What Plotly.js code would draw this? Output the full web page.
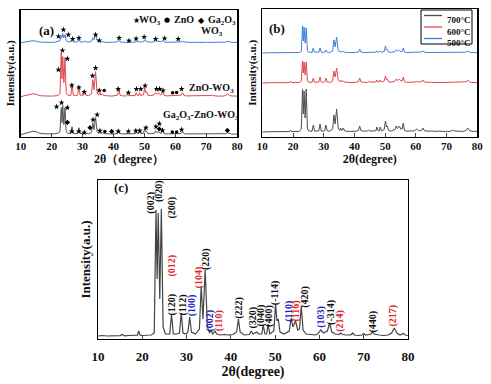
<!DOCTYPE html>
<html><head><meta charset="utf-8">
<script src="https://cdn.plot.ly/plotly-3.0.1.min.js"></script>
<style>html,body{margin:0;padding:0;background:#fff}#chart{width:491px;height:384px}</style>
</head><body><div id="chart"></div>
<script>
// ---------- shared 2θ grid (degrees) ----------
const twoTheta = [
 10, 11, 12, 13, 14, 15, 15.5, 16, 17, 18,
 18.9, 19.2, 19.5, 20, 21, 22, 22.7, 23.1, 23.35, 23.6,
 23.95, 24.3, 24.7, 25.2, 26.2, 26.6, 27.0, 27.7, 28.4, 28.8,
 29.2, 29.9, 30.3, 30.7, 31.1, 32.0, 32.9, 33.3, 33.7, 34.2,
 34.7, 35.2, 35.5, 35.9, 36.4, 36.8, 37.5, 38.5, 39.5, 40.5,
 41.3, 41.7, 42.1, 43.0, 44.2, 44.6, 45.0, 45.4, 45.8, 46.3,
 47.0, 47.3, 47.7, 48.1, 48.4, 48.8, 49.7, 50.1, 50.4, 50.7,
 51.1, 52.0, 53.2, 53.6, 54.0, 54.3, 54.6, 55.1, 55.5, 55.9,
 56.3, 57.0, 58.0, 59.0, 59.6, 60.3, 60.9, 61.8, 62.3, 62.8,
 63.6, 64.4, 64.8, 65.2, 66.0, 67.1, 67.5, 67.9, 68.8, 69.6,
 70.0, 70.4, 71.2, 71.6, 72.0, 72.4, 73.5, 74.5, 75.5, 76.3,
 76.9, 77.5, 78.2, 78.6, 79.0, 79.4, 80.0];

// ---------- panel (a): relative intensities (a.u.) ----------
const aWO3 = [
 0,0.5,1.2,2,2,1.5,1,0.8,0.5,0.3,
 0.3,0.5,0.3,0.3,0.5,1,2,7,5,9,
 5,8,2,1,0.8,2.5,0.8,0.5,0.8,3,
 0.8,0.5,0.8,1.5,0.8,0.5,1.5,5,3,8,
 2,1,1.5,0.8,1,0.5,0.4,0.3,0.3,0.4,
 0.8,2.5,0.8,0.4,0.4,1,0.5,0.5,0.6,0.5,
 0.6,1.2,0.6,0.6,1,0.6,1,3,1.5,1.5,
 0.8,0.5,1,2,1,1.2,1.3,1,1,2.2,
 0.8,0.4,0.4,0.4,0.5,1,0.6,0.8,1.2,0.6,
 0.4,0.4,0.5,0.4,0.3,0.3,0.4,0.3,0.3,0.3,
 0.4,0.3,0.3,0.4,0.6,0.4,0.3,0.3,0.3,0.6,
 1.5,0.6,0.3,0.3,0.4,0.3,0.2];
const aZnOWO3 = [
 0,0.8,1.5,2.5,3,2.5,1.8,1.2,0.8,0.6,
 0.6,1,0.6,0.6,0.8,1.2,3,44,18,40,
 14,39,4,1.5,1.2,13,1.5,1,1.5,10,
 1.5,1.2,1.5,5,1.5,1,3,17,7,25,
 4,1.5,4,1.5,3,1.2,0.8,0.8,0.6,0.8,
 1.5,8,1.5,0.8,0.8,2,1,1,1.2,1,
 1.2,4,1.2,1.2,4,1.2,2,9,4,5,
 1.5,1,2,4,2.5,3,4,2,2,6,
 1.5,0.8,0.8,0.8,1,1.5,1,1.5,4,1.2,
 0.8,0.8,1,0.8,0.6,0.6,0.8,0.6,0.6,0.6,
 0.8,0.6,0.8,1.2,1.5,1,0.6,0.6,0.6,1.5,
 3,1.2,0.6,0.6,0.8,0.6,0.5];
const aGaZnOWO3 = [
 0,1,2,3,3.5,3,2,1.5,1,0.8,
 0.8,1.2,0.8,0.8,1,1.5,3,27,12,29,
 10,27,3,1.5,1.2,8,1.5,1,1.2,7,
 1.2,1,1.2,4,1.2,1,2.5,12,5,17,
 3,1.2,3,1.2,2,1,0.8,0.8,0.8,0.8,
 1.2,5,1.2,0.8,0.8,1.5,1,1,1.2,1,
 1,3,1,1,3,1,1.5,7,3,3.5,
 1.2,1,1.5,4,2,2.5,3,1.5,1.5,6,
 1.2,0.8,0.8,0.8,1,1.5,1,1.2,3,1,
 0.8,0.8,1,0.8,0.6,0.6,0.8,0.6,0.6,0.6,
 0.8,0.6,0.6,0.8,1.2,0.8,0.6,0.6,0.6,1,
 2,1,0.6,0.6,0.8,0.6,0.5];
const aNames = ["WO<sub>3</sub>", "ZnO-WO<sub>3</sub>", "Ga<sub>2</sub>O<sub>3</sub>-ZnO-WO<sub>3</sub>"];
const aOffsets = [94, 40, 2];
const phaseNames = ["WO<sub>3</sub>", "ZnO", "Ga<sub>2</sub>O<sub>3</sub>"];
const phaseSymbols = ["★", "●", "◆"];

// phase markers in panel (a)
const wo3StarX = [22.2,23.8,25.4,26.8,28.8,34.2,35.4,41.8,45.0,47.3,49.9,53.6,56.5,60.9,
 22.2,23.5,25.1,26.5,28.8,30.5,33.2,34.2,35.4,41.5,44.8,47.4,48.8,50.2,53.9,54.9,56.0,62.0,
 21.6,23.2,25.1,26.5,28.8,30.5,33.4,34.7,35.6,41.5,44.8,47.2,48.5,50.5,53.7,54.8,55.8,62.0];
const wo3StarY = [100.3,107,102,97.7,98.7,102,96.3,98.7,96,98,99.7,97.7,98.3,97.7,
 67,86.3,78,51.3,49.3,44.7,61,68.7,46.3,47.7,44,47.7,47.7,51,47.7,47.7,46.3,47.7,
 30,34,29,5.3,5.3,4,17,22,6,5.3,5.3,6,6,9,10,13,6.3,7];
const znoX = [37.0,59.1,60.4,37.2,59.0,60.4];
const znoY = [46.3,44,44.3,5.3,4.7,4.7];
const ga2o3X = [25.1,32.4,39.4,54.8,76.8];
const ga2o3Y = [14.3,9,5.3,7.7,6.3];

// ---------- panel (b): calcination temperatures ----------
const b500 = [
 0,0.3,0.3,0.3,0.3,0.3,0.4,0.3,0.3,0.3,
 0.3,0.8,0.3,0.3,0.3,0.4,1.5,27,12,26,
 10,25,2,0.8,0.6,5,0.8,0.6,0.8,5,
 0.8,0.6,0.8,3,0.8,0.6,2,13,6,16,
 2.5,1,2,0.8,1.5,0.8,0.5,0.4,0.4,0.5,
 1,4,1,0.5,0.5,1,0.6,0.6,0.8,0.6,
 0.8,2,0.8,0.8,2,0.8,1.5,7,3,3.5,
 1,0.6,1.5,3,2,2.5,3,1.5,1.5,5,
 1,0.5,0.5,0.5,0.8,1.2,0.8,1,2,0.8,
 0.5,0.5,0.6,0.5,0.4,0.4,0.6,0.4,0.4,0.4,
 0.5,0.4,0.4,0.6,0.8,0.6,0.4,0.4,0.4,0.8,
 2,0.8,0.4,0.4,0.5,0.4,0.3];
const b600 = [
 0,0.3,0.3,0.3,0.3,0.3,0.4,0.3,0.3,0.3,
 0.4,2,0.4,0.3,0.3,0.5,2,22,10,21,
 8,21,2,0.8,0.6,5,0.8,0.6,1,6,
 1,0.6,1,5,1,0.6,2,12,6,15,
 3,1.2,3,1.2,2,1,0.5,0.5,0.5,0.6,
 1.2,5,1.2,0.6,0.6,1.5,0.8,0.8,1,0.8,
 1,3,1,1,3,1,2,7,3.5,4,
 1.2,0.8,1.8,4,2.5,3,4,2,2,6,
 1.2,0.6,0.6,0.6,1,1.5,1,1.2,3,1,
 0.6,0.6,0.8,0.6,0.5,0.5,0.7,0.5,0.5,0.5,
 0.6,0.5,0.5,0.8,1,0.7,0.5,0.5,0.5,1.2,
 3,1,0.5,0.5,0.6,0.5,0.4];
const b700 = [
 0,0.3,0.3,0.3,0.3,0.3,0.4,0.3,0.3,0.3,
 0.5,2,0.5,0.4,0.4,0.6,3,43,18,41,
 14,43,3,1,0.8,7,1,0.8,1,8,
 1,0.8,1.2,7,1.2,0.8,3,17,8,23,
 4,1.5,4,1.5,4,1.2,0.6,0.6,0.6,0.8,
 1.5,6,1.5,0.8,1,2,1,1,1.2,1,
 1.2,5,1.2,1.2,5,1.2,2.5,11,5,6,
 1.5,1,2.5,6,3.5,4.5,6,3,3,9,
 1.5,0.8,0.8,0.8,1.2,3,1.2,1.5,4,1.2,
 0.8,0.8,1,0.8,0.6,0.6,0.9,0.6,0.6,0.6,
 0.8,0.6,0.6,1.2,2,1,0.6,0.6,0.6,1.5,
 4,1.2,0.6,0.6,0.8,0.6,0.5];
const bNames = ["700°C", "600°C", "500°C"];
const bOffsets = [4.7, 53.7, 83.7];

// ---------- panel (c): Ga2O3-ZnO-WO3 indexed pattern ----------
const cIntensity = [
 3,3.5,3,3.2,3,3.4,4.5,3.2,3.5,3.3,
 3.8,8,3.8,3.5,3.6,4,6,129,60,126,
 40,130,12,5,5,25,5,5,6,26,
 6,5,7,22,7,5,10,53,20,69,
 12,6,9,5,8,5,4,4.5,4,4.5,
 7,20,7,4,4.5,8,5,6,7,5,
 5,14,5,5,15,5,8,35,18,20,
 7,5,8,21,12,15,18,9,10,33,
 9,5,4.5,4,5,9,6,8,16,7,
 5,4.5,6,4.5,4,4,6,4,3.5,4,
 5.5,4,4.5,5,7,5,4,3.5,4,6,
 11,6,4,4.5,5.5,4,3.5];
const cLabels = ["(002)","(020)","(200)","(012)","(120)","(112)","(100)","(104)","(220)","(002)","(110)","(222)",
 "(320)","(040)","(400)","(-114)","(110)","(116)","(420)","(103)","(-314)","(214)","(440)","(217)"];
const cLabelX = [21.9,23.8,26.6,26.6,26.6,29.1,31.3,32.9,34.4,35.4,37.4,41.8,
 44.9,46.9,48.6,50.0,53.1,54.6,56.7,60.3,62.6,64.6,72.0,76.5];
const cLabelY = [136,148,131,73,34,34,34,62,80,19,18,31,
 21,24,23,46,28,28,42,22,27,18,17,23];
const cLabelPhase = ["W","W","W","G","W","W","Z","G","W","Z","G","W",
 "W","W","W","W","Z","G","W","Z","W","G","W","G"];

const xTicks = [10,20,30,40,50,60,70,80];

// ---------- styles ----------
const SERIF = "Liberation Serif, 'Times New Roman', serif";
const phaseColor = {W:"#111111", G:"#e3262b", Z:"#2323c8"};
const aColors = ["#3d7fdc", "#e0474f", "#555555"];
const bColors = ["#4d4d4d", "#e0474f", "#3d7fdc"];
const W = 491, H = 384;
const dx = p => p / W, dy = p => 1 - p / H;

const traces = [];
// panel (a)
[aWO3, aZnOWO3, aGaZnOWO3].forEach((s, i) => {
  traces.push({x: twoTheta, y: s.map(v => v + aOffsets[i]), xaxis:"x", yaxis:"y",
    mode:"lines", line:{color:aColors[i], width:1}, showlegend:false, hoverinfo:"skip"});
});
traces.push({x: wo3StarX, y: wo3StarY, xaxis:"x", yaxis:"y", mode:"markers",
  marker:{symbol:"star", size:4.5, color:"#000", line:{width:0}}, showlegend:false, hoverinfo:"skip"});
traces.push({x: znoX, y: znoY, xaxis:"x", yaxis:"y", mode:"markers",
  marker:{symbol:"circle", size:3.5, color:"#000", line:{width:0}}, showlegend:false, hoverinfo:"skip"});
traces.push({x: ga2o3X, y: ga2o3Y, xaxis:"x", yaxis:"y", mode:"markers",
  marker:{symbol:"diamond", size:4, color:"#000", line:{width:0}}, showlegend:false, hoverinfo:"skip"});
// panel (b)
[b700, b600, b500].forEach((s, i) => {
  traces.push({x: twoTheta, y: s.map(v => v + bOffsets[i]), xaxis:"x2", yaxis:"y2",
    mode:"lines", name:bNames[i], line:{color:bColors[i], width:1}, showlegend:false, hoverinfo:"skip"});
});
// panel (c)
traces.push({x: twoTheta, y: cIntensity, xaxis:"x3", yaxis:"y3", mode:"lines",
  line:{color:"#444444", width:1.2}, showlegend:false, hoverinfo:"skip"});

function xAxis(domain, anchor, fs, title, tfs, standoff, lblOff) {
  return {domain, anchor, range:[10,80], tickvals:xTicks, ticks:"inside", ticklen:4, tickwidth:1,
    ticklabelstandoff: lblOff,
    showline:true, mirror:true, linecolor:"#000", linewidth:1.3, showgrid:false, zeroline:false,
    tickfont:{family:SERIF, size:fs, color:"#111", weight:"bold"},
    title:{text:title, font:{family:SERIF, size:tfs, color:"#111", weight:"bold"}, standoff}};
}
function yAxis(domain, anchor, range, tfs, standoff) {
  return {domain, anchor, range, showticklabels:false, ticks:"", showline:true, mirror:true,
    linecolor:"#000", linewidth:1.3, showgrid:false, zeroline:false,
    title:{text:"Intensity(a.u.)", font:{family:SERIF, size:tfs, color:"#111", weight:"bold"}, standoff}};
}

const annotations = [];
const shapes = [];
const ann = (o) => annotations.push(Object.assign({showarrow:false}, o));
const bf = (size, color) => ({family:SERIF, size, color:color || "#111", weight:"bold"});
// panel tags
ann({xref:"paper", yref:"paper", x:dx(37), y:dy(21), text:"(a)", font:bf(13)});
ann({xref:"paper", yref:"paper", x:dx(277), y:dy(19), text:"(b)", font:bf(13)});
ann({xref:"paper", yref:"paper", x:dx(112), y:dy(188), text:"(c)", font:bf(13)});
// panel (a) phase key
const keySymX = [131, 167, 201], keyTxtX = [137, 172, 206], keySymSize = [8, 7, 8];
phaseNames.forEach((t, i) => {
  ann({xref:"paper", yref:"paper", x:dx(keySymX[i]), y:dy(14), text:phaseSymbols[i],
    font:{family:"DejaVu Sans", size:keySymSize[i], color:"#000"}});
  ann({xref:"paper", yref:"paper", x:dx(keyTxtX[i]), y:dy(12), xanchor:"left", text:t, font:bf(10)});
});
// panel (a) curve labels
ann({xref:"x", yref:"y", x:71.8, y:105, text:aNames[0], font:bf(10)});
ann({xref:"x", yref:"y", x:71.5, y:48, text:aNames[1], font:bf(10)});
ann({xref:"x", yref:"y", x:68.3, y:21, text:aNames[2], font:bf(10)});
// panel (b) legend (boxed key)
shapes.push({type:"rect", xref:"paper", yref:"paper", x0:dx(421), x1:dx(472), y0:dy(44), y1:dy(10),
  line:{color:"#000", width:1}, fillcolor:"#fff", layer:"above"});
const legRowY = [15.5, 27, 38.5];
bNames.forEach((n, i) => {
  shapes.push({type:"line", xref:"paper", yref:"paper", x0:dx(424), x1:dx(442), y0:dy(legRowY[i]), y1:dy(legRowY[i]),
    line:{color:bColors[i], width:1.3}, layer:"above"});
  ann({xref:"paper", yref:"paper", x:dx(445), y:dy(legRowY[i] - 2.5), xanchor:"left", text:n, font:bf(9)});
});
// panel (c) Miller indices
cLabels.forEach((t, i) => ann({xref:"x3", yref:"y3", x:cLabelX[i], y:cLabelY[i], text:t,
  textangle:-90, font:bf(10, phaseColor[cLabelPhase[i]])}));

const layout = {
  width:W, height:H, margin:{l:0, r:0, t:0, b:0}, paper_bgcolor:"#fff", plot_bgcolor:"#fff",
  showlegend:false,
  xaxis: xAxis([dx(20.7), dx(237.3)], "y", 11, "2θ（degree）", 12, 1, -1),
  yaxis: yAxis([dy(136.7), dy(10)], "x", [0,126.7], 11, 2),
  xaxis2: xAxis([dx(262.3), dx(477.3)], "y2", 11, "2θ(degree)", 12, 3, -1),
  yaxis2: yAxis([dy(136.7), dy(9)], "x2", [0,127.7], 11, 2),
  xaxis3: xAxis([dx(98), dx(408)], "y3", 13, "2θ(degree)", 14, 2, 5),
  yaxis3: yAxis([dy(339), dy(180)], "x3", [0,159], 13, 3),
  annotations, shapes
};
Plotly.newPlot("chart", traces, layout, {staticPlot:true, displayModeBar:false});
</script></body></html>
